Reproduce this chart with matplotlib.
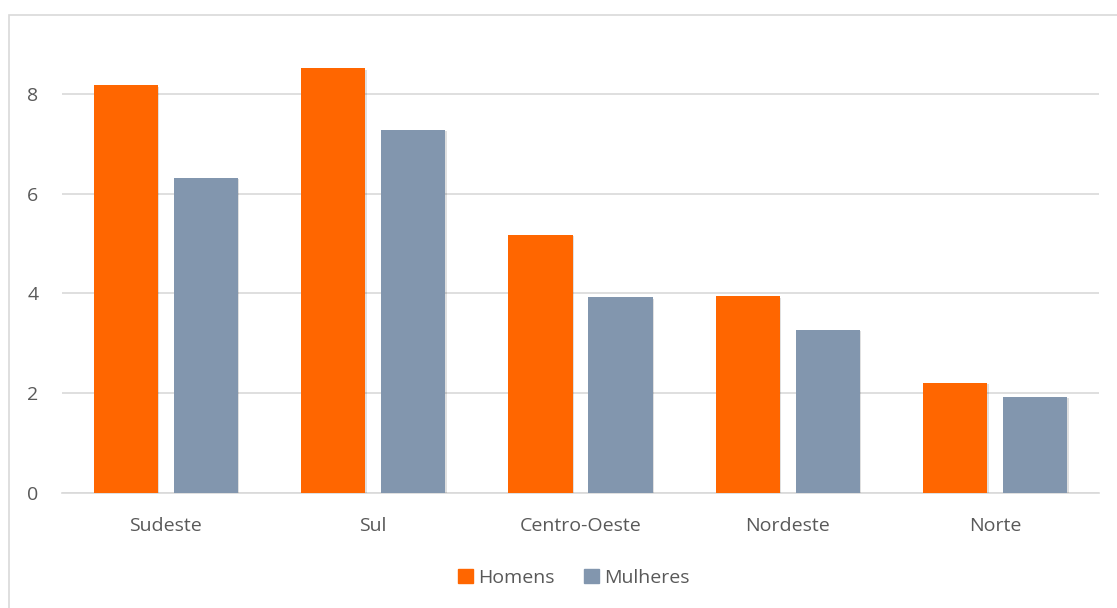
import numpy as np
import matplotlib
matplotlib.use('Agg')
import matplotlib.pyplot as plt
import matplotlib.patheffects as pe
from matplotlib.patches import Rectangle, Patch

regioes = ['Sudeste', 'Sul', 'Centro-Oeste', 'Nordeste', 'Norte']
homens = [8.17, 8.51, 5.18, 3.94, 2.21]
mulheres = [6.32, 7.28, 3.92, 3.27, 1.93]

plt.rcParams['font.family'] = ['Open Sans', 'DejaVu Sans']
text_col = '#595959'
grid_col = '#D9D9D9'
cor_h = '#FF6600'
cor_m = '#8296AE'

fig = plt.figure(figsize=(11.17, 6.08), dpi=100)
ax = fig.add_axes([62 / 1117, 1 - 493 / 608, 1037 / 1117, (493 - 44) / 608])

x = np.arange(len(regioes))
w = 0.31
shadow = [pe.SimplePatchShadow(offset=(1, -1), shadow_rgbFace='#000000', alpha=0.12), pe.Normal()]
b1 = ax.bar(x - 0.193, homens, w, color=cor_h, zorder=3)
b2 = ax.bar(x + 0.193, mulheres, w, color=cor_m, zorder=3)
for b in list(b1) + list(b2):
    b.set_path_effects(shadow)

ax.set_xlim(-0.5, len(regioes) - 0.5)
ax.set_ylim(0, 9)
ax.set_yticks([0, 2, 4, 6, 8])
ax.set_xticks(x)
ax.set_xticklabels(regioes)
ax.yaxis.grid(True, color=grid_col, linewidth=1.2, zorder=0)
ax.set_axisbelow(True)
for s in ['top', 'right', 'left']:
    ax.spines[s].set_visible(False)
ax.spines['bottom'].set_color(grid_col)
ax.spines['bottom'].set_linewidth(1.2)
ax.tick_params(axis='both', length=0, labelsize=14, labelcolor=text_col)
ax.tick_params(axis='y', pad=17)
ax.tick_params(axis='x', pad=17)

handles = [Patch(color=cor_h, label='Homens'), Patch(color=cor_m, label='Mulheres')]
fig.legend(handles=handles, loc='center', bbox_to_anchor=(574 / 1117, 1 - 578 / 608),
           ncol=2, frameon=False, fontsize=14, labelcolor=text_col,
           handlelength=0.75, handleheight=0.75, handletextpad=0.3, columnspacing=1.5)

fig.patches.append(Rectangle((9 / 1117, -0.05), 1.2, 1 - 15 / 608 + 0.05, transform=fig.transFigure,
                             fill=False, edgecolor=grid_col, linewidth=1.2))

plt.savefig('out.png', dpi=100)
